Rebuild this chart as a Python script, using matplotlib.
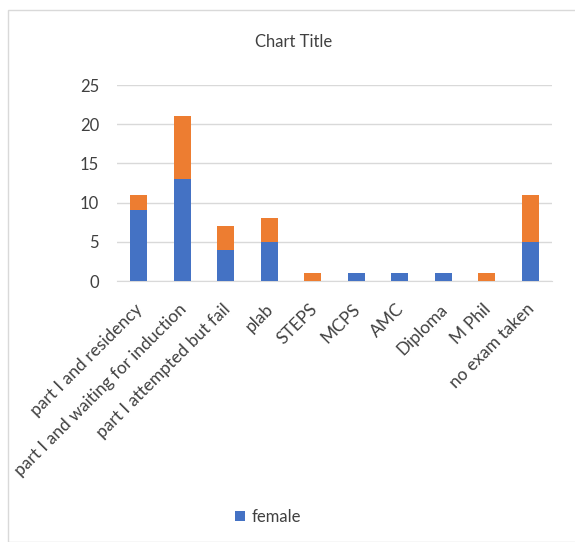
import matplotlib.pyplot as plt
from matplotlib.patches import Rectangle
from matplotlib.transforms import ScaledTranslation
import numpy as np

categories = ['part I and residency', 'part I and waiting for induction',
              'part I attempted but fail', 'plab', 'STEPS', 'MCPS', 'AMC',
              'Diploma', 'M Phil', 'no exam taken']
female = [9, 13, 4, 5, 0, 1, 1, 1, 0, 5]
male = [2, 8, 3, 3, 1, 0, 0, 0, 1, 6]
y_ticks = [0, 5, 10, 15, 20, 25]

plt.rcParams['font.family'] = ['Lato', 'DejaVu Sans']
txt = '#404040'

W, H = 575, 542
fig = plt.figure(figsize=(W / 100, H / 100), dpi=100)

# chart frame
fig.patches.append(Rectangle((8 / W, 0), 1, 1 - 10 / H, transform=fig.transFigure,
                             fill=False, edgecolor='#d9d9d9', linewidth=1))

ax = fig.add_axes([117 / W, 1 - 281 / H, (552 - 117) / W, (281 - 85) / H])
x = np.arange(len(categories))
ax.bar(x, female, width=0.4, color='#4472c4', label='female', zorder=3)
ax.bar(x, male, width=0.4, bottom=female, color='#ed7d31', zorder=3)

ax.set_xlim(-0.5, len(categories) - 0.5)
ax.set_ylim(0, 25)
ax.set_yticks(y_ticks)
ax.yaxis.grid(True, color='#d9d9d9', linewidth=1, zorder=0)
ax.tick_params(axis='both', length=0, labelsize=12, colors=txt)
ax.tick_params(axis='y', pad=13)
ax.set_xticks(x)
ax.set_xticklabels(categories, rotation=45, ha='right', rotation_mode='anchor',
                   fontsize=12.5)
for s in ['top', 'right', 'left']:
    ax.spines[s].set_visible(False)
ax.spines['bottom'].set_color('#d9d9d9')

# nudge the slanted labels down a little
shift = ScaledTranslation(-0.04, -0.15, fig.dpi_scale_trans)
for lab in ax.get_xticklabels():
    lab.set_transform(lab.get_transform() + shift)

fig.text(294 / W, 1 - 42 / H, 'Chart Title', ha='center', va='center',
         fontsize=12, color=txt)

fig.legend(loc='center', bbox_to_anchor=(268 / W, 1 - 517 / H), frameon=False,
           fontsize=12, handlelength=0.6, handleheight=0.6, handletextpad=0.4,
           labelcolor=txt)

fig.savefig('out.png', dpi=100)
